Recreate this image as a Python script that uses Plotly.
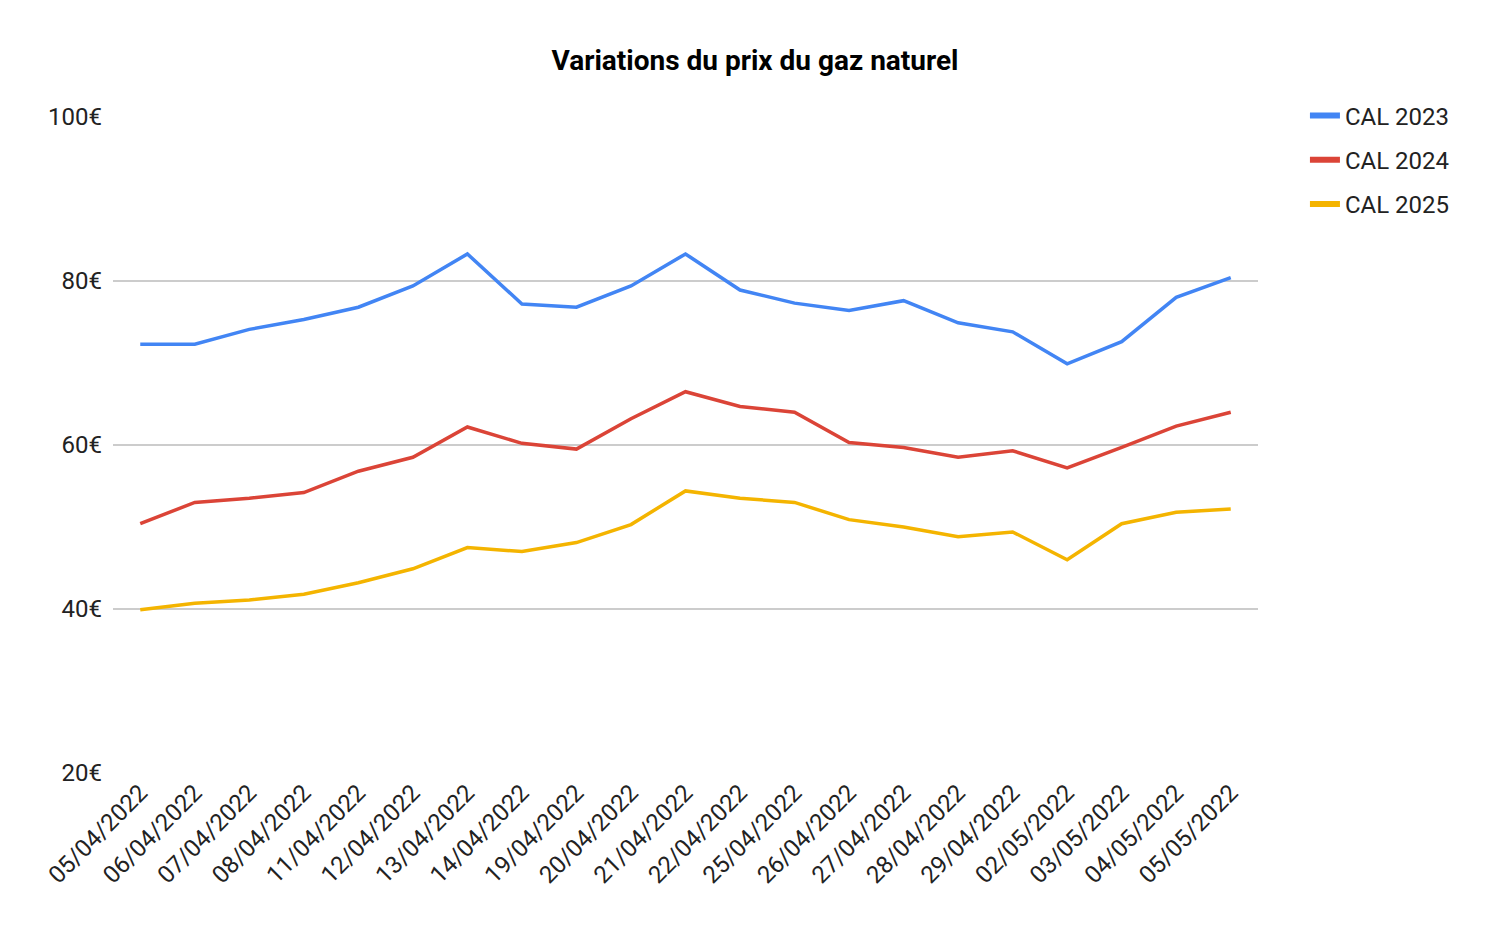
import plotly.graph_objects as go

dates = ["05/04/2022", "06/04/2022", "07/04/2022", "08/04/2022", "11/04/2022",
         "12/04/2022", "13/04/2022", "14/04/2022", "19/04/2022", "20/04/2022",
         "21/04/2022", "22/04/2022", "25/04/2022", "26/04/2022", "27/04/2022",
         "28/04/2022", "29/04/2022", "02/05/2022", "03/05/2022", "04/05/2022",
         "05/05/2022"]

cal_2023 = [72.3, 72.3, 74.1, 75.3, 76.8, 79.4, 83.3, 77.2, 76.8, 79.4, 83.3,
            78.9, 77.3, 76.4, 77.6, 74.9, 73.8, 69.9, 72.6, 78.0, 80.4]
cal_2024 = [50.4, 53.0, 53.5, 54.2, 56.8, 58.5, 62.2, 60.2, 59.5, 63.2, 66.5,
            64.7, 64.0, 60.3, 59.7, 58.5, 59.3, 57.2, 59.7, 62.3, 64.0]
cal_2025 = [39.9, 40.7, 41.1, 41.8, 43.2, 44.9, 47.5, 47.0, 48.1, 50.3, 54.4,
            53.5, 53.0, 50.9, 50.0, 48.8, 49.4, 46.0, 50.4, 51.8, 52.2]

series_names = ["CAL 2023", "CAL 2024", "CAL 2025"]
series_values = [cal_2023, cal_2024, cal_2025]
colors = ["#4285F4", "#DB4437", "#F4B400"]

y_ticks = [20, 40, 60, 80, 100]
y_labels = [f"{v}€" for v in y_ticks]

FONT = "Roboto, Arial, sans-serif"

# page body has an 8px margin, so the figure is sized / offset to compensate
W, H = 1494, 922

fig = go.Figure()
for name, vals, col in zip(series_names, series_values, colors):
    fig.add_trace(go.Scatter(
        x=dates, y=vals, mode="lines", name=name,
        line=dict(color=col, width=3.5), showlegend=False,
        hovertemplate="%{x}<br>%{y}€<extra>" + name + "</extra>",
    ))
# legend entries (thicker swatches like the reference)
for name, col in zip(series_names, colors):
    fig.add_trace(go.Scatter(
        x=[None], y=[None], mode="lines", name=name,
        line=dict(color=col, width=6), legendgroup=name, showlegend=True,
    ))

fig.update_layout(
    width=W, height=H,
    paper_bgcolor="white", plot_bgcolor="white",
    font=dict(family=FONT, size=24, color="#222222"),
    title=dict(text="<b>Variations du prix du gaz naturel</b>",
               x=0.5, xanchor="center", y=1 - 52 / H, yanchor="middle",
               font=dict(family=FONT, size=28, color="#000000")),
    margin=dict(l=105, r=244, t=109, b=157),
    legend=dict(x=1.041, xanchor="left", y=1.036, yanchor="top",
                font=dict(family=FONT, size=24, color="#222222"),
                itemwidth=30, tracegroupgap=10, traceorder="grouped",
                bgcolor="rgba(0,0,0,0)"),
    xaxis=dict(type="category", categoryorder="array", categoryarray=dates,
               range=[-0.5, len(dates) - 0.5], tickangle=-45,
               showgrid=False, showline=False, zeroline=False, ticks="",
               tickfont=dict(family=FONT, size=24, color="#222222")),
    yaxis=dict(range=[20, 100], tickmode="array", tickvals=y_ticks,
               ticktext=y_labels, showgrid=True, gridcolor="#cccccc",
               gridwidth=1.5, zeroline=False, showline=False, ticks="",
               ticklabelstandoff=10,
               tickfont=dict(family=FONT, size=24, color="#222222")),
)

fig.write_html("out.html")
